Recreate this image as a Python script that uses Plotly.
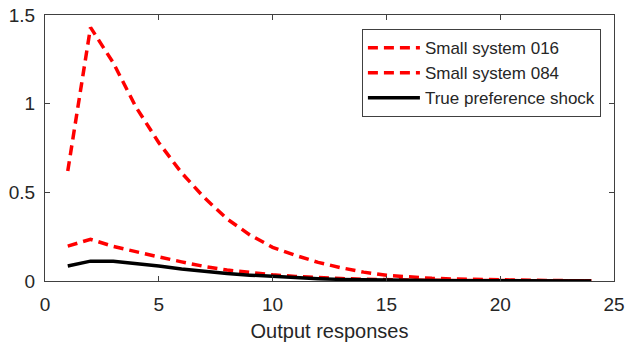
import plotly.graph_objects as go

# Impulse-response horizons
horizon = list(range(1, 25))

# Output responses to a preference shock
small_016 = [0.62, 1.43, 1.23, 0.98, 0.78, 0.61, 0.47, 0.35, 0.26, 0.19, 0.145, 0.105,
             0.075, 0.05, 0.032, 0.022, 0.015, 0.011, 0.008, 0.006, 0.004, 0.003, 0.002, 0.001]
small_084 = [0.197, 0.235, 0.195, 0.163, 0.136, 0.108, 0.082, 0.062, 0.047, 0.035, 0.026, 0.019,
             0.014, 0.01, 0.007, 0.005, 0.004, 0.003, 0.002, 0.002, 0.001, 0.001, 0.001, 0.001]
true_pref = [0.085, 0.112, 0.112, 0.1, 0.085, 0.068, 0.053, 0.042, 0.033, 0.025, 0.018, 0.013,
             0.009, 0.007, 0.005, 0.004, 0.003, 0.002, 0.002, 0.001, 0.001, 0.001, 0.001, 0.0]

series_names = ["Small system 016", "Small system 084", "True preference shock"]

x_ticks = [0, 5, 10, 15, 20, 25]
y_ticks = [0, 0.5, 1, 1.5]
y_tick_text = ["0", "0.5", "1", "1.5"]

axis_color = "#404040"
text_color = "#262626"
font_family = "Liberation Sans, Arial, sans-serif"

fig = go.Figure()
fig.add_trace(go.Scatter(x=horizon, y=small_016, mode="lines", name=series_names[0],
                         line=dict(color="#ff0000", width=3.5, dash="10px,6px")))
fig.add_trace(go.Scatter(x=horizon, y=small_084, mode="lines", name=series_names[1],
                         line=dict(color="#ff0000", width=3.5, dash="10px,6px")))
fig.add_trace(go.Scatter(x=horizon, y=true_pref, mode="lines", name=series_names[2],
                         line=dict(color="#000000", width=3.5)))

fig.update_layout(
    width=628, height=351,
    margin=dict(l=45, r=14, t=15, b=70),
    paper_bgcolor="white", plot_bgcolor="white",
    font=dict(family=font_family, color=text_color, size=19),
    showlegend=True,
    legend=dict(x=0.977, y=0.947, xanchor="right", yanchor="top",
                bgcolor="white", bordercolor=axis_color, borderwidth=1,
                font=dict(size=17, color=text_color),
                tracegroupgap=0, itemwidth=52),
    xaxis=dict(range=[0, 25], tickvals=x_ticks, ticks="inside", ticklen=5,
               tickcolor=axis_color, showline=True, linecolor=axis_color, linewidth=1,
               mirror="ticks", showgrid=False, zeroline=False, automargin=False,
               ticklabelstandoff=6,
               title=dict(text="Output responses", font=dict(size=20), standoff=10),
               tickfont=dict(size=19)),
    yaxis=dict(range=[0, 1.5], tickvals=y_ticks, ticktext=y_tick_text, ticks="inside",
               ticklen=5, tickcolor=axis_color, showline=True, linecolor=axis_color,
               linewidth=1, mirror="ticks", showgrid=False, zeroline=False,
               automargin=False, ticklabelstandoff=5, tickfont=dict(size=19)),
)

fig.write_html("out.html")
